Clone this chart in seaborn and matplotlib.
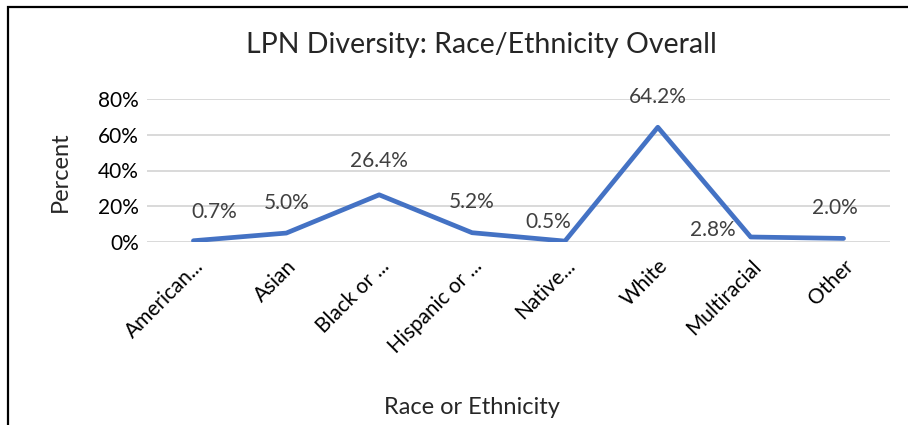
import numpy as np
import pandas as pd
import matplotlib
matplotlib.use('Agg')
import matplotlib.pyplot as plt
from matplotlib.patches import Rectangle
from matplotlib.ticker import PercentFormatter
import seaborn as sns

# Data
categories = ['American...', 'Asian', 'Black or ...', 'Hispanic or ...',
              'Native...', 'White', 'Multiracial', 'Other']
percent = [0.7, 5.0, 26.4, 5.2, 0.5, 64.2, 2.8, 2.0]
value_labels = ['0.7%', '5.0%', '26.4%', '5.2%', '0.5%', '64.2%', '2.8%', '2.0%']

# label nudges (points) to match the reference placement
label_offsets = [(15, 21), (0, 22), (0, 24), (0, 22), (-12, 14), (0, 22), (-27, 5), (-6, 22)]

sns.set_style('white')
plt.rcParams['font.family'] = ['Lato', 'DejaVu Sans']

df = pd.DataFrame({'Race or Ethnicity': categories, 'Percent': percent})

fig = plt.figure(figsize=(9.08, 4.25), dpi=100)
ax = fig.add_axes([147 / 908, 1 - 242 / 425, (890 - 147) / 908, (242 - 99) / 425])

sns.lineplot(data=df, x='Race or Ethnicity', y='Percent', sort=False,
             color='#4472C4', linewidth=3.4, ax=ax)
ax.lines[0].set_solid_capstyle('round')

for i, (val, txt) in enumerate(zip(percent, value_labels)):
    ax.annotate(txt, (i, val), xytext=label_offsets[i], textcoords='offset points',
                ha='center', va='center', fontsize=15, color='#404040')

ax.set_xlim(-0.5, len(categories) - 0.5)
ax.set_ylim(0, 80)
ax.set_yticks([0, 20, 40, 60, 80])
ax.yaxis.set_major_formatter(PercentFormatter(decimals=0))
ax.grid(axis='y', color='#D9D9D9', linewidth=1.4)
ax.set_axisbelow(True)
for s in ax.spines.values():
    s.set_visible(False)
ax.tick_params(axis='both', length=0, labelsize=15, colors='black', pad=6)
ax.tick_params(axis='x', pad=10)
plt.setp(ax.get_xticklabels(), rotation=45, ha='right', rotation_mode='anchor')

ax.set_xlabel('')
ax.set_ylabel('')
fig.text(472 / 908, 1 - 408 / 425, 'Race or Ethnicity', ha='center', va='center', fontsize=17)
fig.text(60 / 908, 1 - 172 / 425, 'Percent', ha='center', va='center', rotation=90, fontsize=17)
fig.text(481 / 908, 1 - 45 / 425, 'LPN Diversity: Race/Ethnicity Overall',
         ha='center', va='center', fontsize=20.5)

# outer chart border (cut off at right and bottom)
fig.add_artist(Rectangle((8 / 908, -0.1), 1.2, 1.1 - 7 / 425, transform=fig.transFigure,
                         fill=False, edgecolor='black', linewidth=1.6))

fig.savefig('out.png', dpi=100)
